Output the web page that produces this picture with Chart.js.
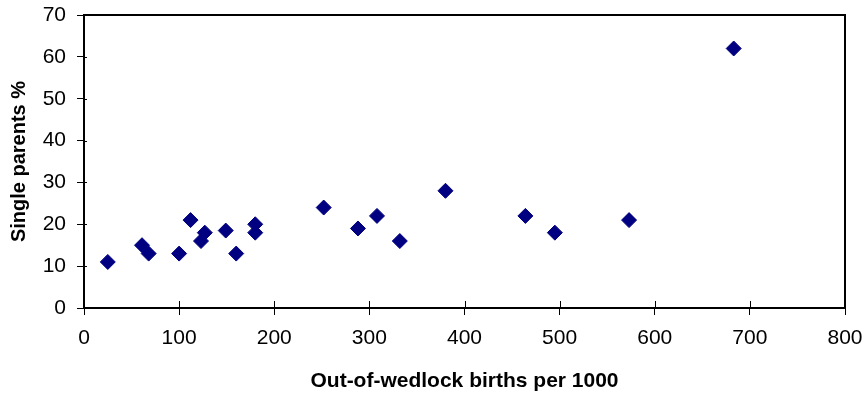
<!DOCTYPE html>
<html>
<head>
<meta charset="utf-8">
<script src="https://cdn.jsdelivr.net/npm/chart.js@4/dist/chart.umd.min.js"></script>
<style>
html,body{margin:0;padding:0;background:#fff;}
#wrap{width:866px;height:396px;position:relative;}
</style>
</head>
<body>
<div id="wrap"><canvas id="c" width="866" height="396"></canvas></div>
<script>
// Data
const birthsPer1000 = [25, 61, 68, 100, 112, 123, 127, 149, 160, 180, 180, 252, 288, 308, 332, 380, 464, 495, 573, 683];
const singleParentsPct = [11, 15, 13, 13, 21, 16, 18, 18.5, 13, 20, 18, 24, 19, 22, 16, 28, 22, 18, 21, 62];
const xTitle = 'Out-of-wedlock births per 1000';
const yTitle = 'Single parents %';

const points = birthsPer1000.map((x, i) => ({x: x, y: singleParentsPct[i]}));
const FONT = '"Liberation Sans", Arial, sans-serif';

const frame = {
  id: 'frame',
  afterDraw(chart) {
    const {ctx, chartArea: a, scales} = chart;
    ctx.save();
    ctx.strokeStyle = '#000';
    ctx.lineWidth = 2;
    ctx.beginPath();
    ctx.moveTo(a.left, a.top); ctx.lineTo(a.right, a.top); ctx.lineTo(a.right, a.bottom);
    ctx.stroke();
    // inner half of x ticks (ticks cross the axis)
    ctx.lineWidth = 1;
    scales.x.ticks.forEach(t => {
      const px = Math.round(scales.x.getPixelForValue(t.value)) + 0.5;
      ctx.beginPath(); ctx.moveTo(px, a.bottom); ctx.lineTo(px, a.bottom - 7); ctx.stroke();
    });
    // short inner stub of y ticks
    scales.y.ticks.forEach(t => {
      const py = Math.round(scales.y.getPixelForValue(t.value)) + 0.5;
      ctx.beginPath(); ctx.moveTo(a.left, py); ctx.lineTo(a.left + 3, py); ctx.stroke();
    });
    ctx.restore();
  }
};

new Chart(document.getElementById('c'), {
  type: 'scatter',
  data: {
    datasets: [{
      data: points,
      pointStyle: 'rectRot',
      pointRadius: 7.5,
      pointHoverRadius: 7.5,
      backgroundColor: '#000080',
      borderColor: '#000080',
      borderWidth: 1
    }]
  },
  options: {
    responsive: false,
    animation: false,
    events: [],
    layout: {padding: {left: 0, right: 21, top: 15, bottom: 0}},
    plugins: {legend: {display: false}, tooltip: {enabled: false}},
    scales: {
      x: {
        type: 'linear', min: 0, max: 800,
        afterFit(s) { s.height = 88; s.paddingLeft = 0; s.paddingRight = 0; },
        ticks: {stepSize: 100, color: '#000', padding: 11, maxRotation: 0,
          font: {family: FONT, size: 21}},
        grid: {display: true, drawOnChartArea: false, drawTicks: true, tickLength: 7, color: '#000', lineWidth: 1},
        border: {display: true, color: '#000', width: 2},
        title: {display: true, text: xTitle, color: '#000', padding: {top: 0, bottom: 2},
          font: {family: FONT, size: 21, weight: 'bold'}}
      },
      y: {
        type: 'linear', min: 0, max: 70,
        afterFit(s) { s.width = 84; s.paddingTop = 0; s.paddingBottom = 0; },
        ticks: {stepSize: 10, color: '#000', padding: 11,
          font: {family: FONT, size: 21}},
        grid: {display: true, drawOnChartArea: false, drawTicks: true, tickLength: 7, color: '#000', lineWidth: 1},
        border: {display: true, color: '#000', width: 2},
        title: {display: true, text: yTitle, color: '#000', padding: {top: 7, bottom: 0},
          font: {family: FONT, size: 20, weight: 'bold'}}
      }
    }
  },
  plugins: [frame]
});
</script>
</body>
</html>
